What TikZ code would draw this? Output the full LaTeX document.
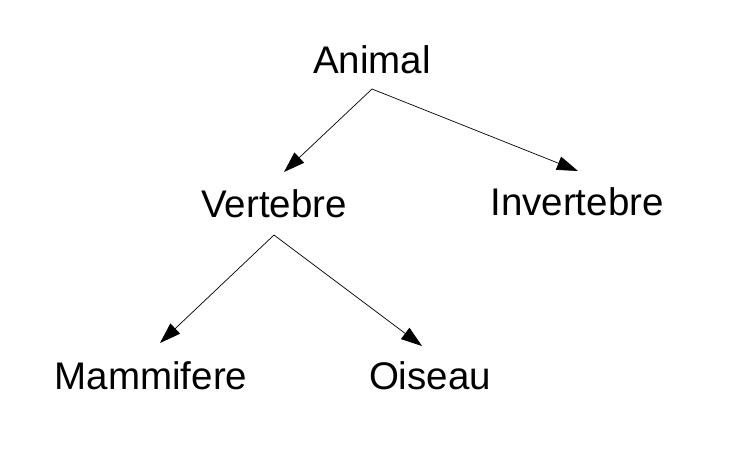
\documentclass[tikz,border=0pt]{standalone}
\usepackage{fontspec}
\setmainfont{Liberation Sans}
\usetikzlibrary{arrows.meta}
\begin{document}
\begin{tikzpicture}[x=1pt,y=-1pt,
  lbl/.style={font=\fontsize{38.5}{42}\selectfont, inner sep=0pt},
  arr/.style={line width=0.7pt, -{Triangle[length=21pt,width=14pt]}}]
\useasboundingbox (0,0) rectangle (729,466);
\node[lbl] (animal) at (372,60) {Animal};
\node[lbl] (vert) at (274,204) {Vertebre};
\node[lbl] (invert) at (577,202) {Invertebre};
\node[lbl] (mamm) at (151,376) {Mammifere};
\node[lbl] (ois) at (430,376) {Oiseau};
\coordinate (a1) at (372,89);
\coordinate (v1) at (274,235);
\coordinate (av) at (284,172);
\coordinate (ai) at (578,171);
\coordinate (vm) at (160,343);
\coordinate (vo) at (422,346);
\draw[arr] (a1) -- (av);
\draw[arr] (a1) -- (ai);
\draw[arr] (v1) -- (vm);
\draw[arr] (v1) -- (vo);
\end{tikzpicture}
\end{document}
